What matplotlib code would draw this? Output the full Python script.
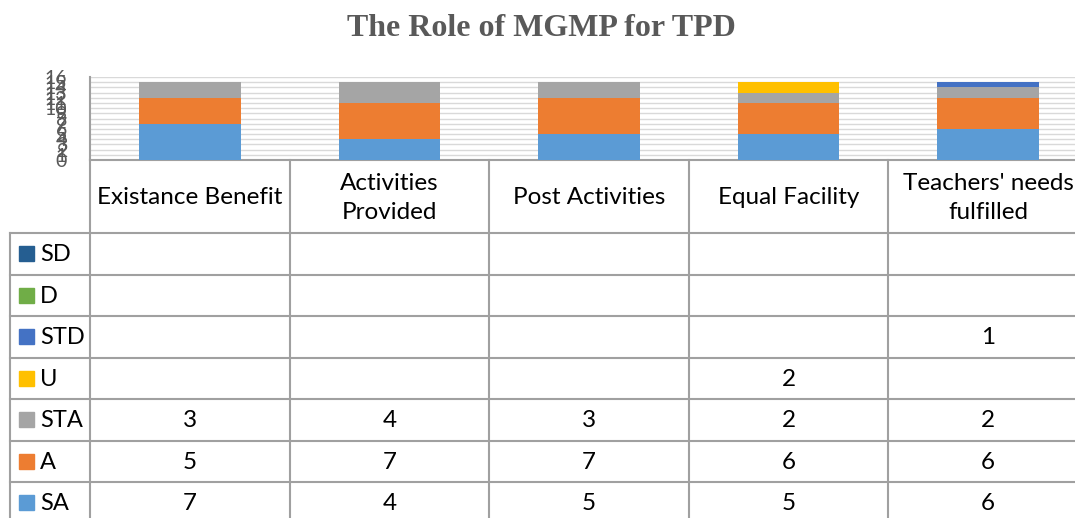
import numpy as np
import matplotlib
matplotlib.use("Agg")
import matplotlib.pyplot as plt
from matplotlib.patches import Rectangle

# ---- data ----
title = "The Role of MGMP for TPD"
categories = ["Existance Benefit", "Activities\nProvided", "Post Activities",
              "Equal Facility", "Teachers' needs\nfulfilled"]
series_names = ["SD", "D", "STD", "U", "STA", "A", "SA"]   # table order (top→bottom)
SD  = [np.nan, np.nan, np.nan, np.nan, np.nan]
D   = [np.nan, np.nan, np.nan, np.nan, np.nan]
STD = [np.nan, np.nan, np.nan, np.nan, 1]
U   = [np.nan, np.nan, np.nan, 2, np.nan]
STA = [3, 4, 3, 2, 2]
A   = [5, 7, 7, 6, 6]
SA  = [7, 4, 5, 5, 6]
y_ticks = list(range(0, 17))

series_values = {"SD": SD, "D": D, "STD": STD, "U": U, "STA": STA, "A": A, "SA": SA}
colors = {"SD": "#255E91", "D": "#70AD47", "STD": "#4472C4", "U": "#FFC000",
          "STA": "#A5A5A5", "A": "#ED7D31", "SA": "#5B9BD5"}

W, H = 1075, 518
fig = plt.figure(figsize=(W / 100, H / 100), dpi=100)
fig.patch.set_facecolor("white")

def fx(px):
    return px / W

def fy(py):
    return (H - py) / H

# layout in pixels
col_left, col_w = 90.0, 199.6
n = len(categories)
x_right = col_left + n * col_w
plot_top, plot_bot = 77.0, 160.0
leg_left = 10.0
header_bot = 233.0
row_h = 41.5
table_bot = header_bot + row_h * len(series_names)

TEXT = "#000000"
GRID = "#D9D9D9"
LINE = "#A0A0A0"
FONT = ["Lato", "DejaVu Sans"]
FS = 17.5

# ---- chart axes ----
ax = fig.add_axes([fx(col_left), fy(plot_bot), fx(x_right - col_left), (plot_bot - plot_top) / H])
x = np.arange(n)
bottom = np.zeros(n)
for name in ["SA", "A", "STA", "U", "STD", "D", "SD"]:
    vals = np.nan_to_num(np.array(series_values[name], dtype=float))
    ax.bar(x, vals, bottom=bottom, width=0.51, color=colors[name], zorder=3, linewidth=0)
    bottom += vals
ax.set_xlim(-0.5, n - 0.5)
ax.set_ylim(0, 16)
ax.set_yticks(y_ticks)
ax.set_yticklabels([str(t) for t in y_ticks], fontsize=14, color="#595959", family=FONT)
ax.tick_params(axis="y", length=0, pad=16.5)
ax.set_xticks([])
ax.yaxis.grid(True, color=GRID, linewidth=1.0, zorder=0)
for s in ["top", "right"]:
    ax.spines[s].set_visible(False)
ax.spines["left"].set_color(LINE)
ax.spines["left"].set_linewidth(1.5)
ax.spines["bottom"].set_color(LINE)
ax.spines["bottom"].set_linewidth(1.5)
ax.set_facecolor("none")

# ---- data table axes ----
tx0 = -0.5 - (col_left - leg_left) / col_w
tab = fig.add_axes([fx(leg_left), fy(table_bot), fx(x_right - leg_left), (table_bot - plot_bot) / H])
tab.set_xlim(tx0, n - 0.5)
tab.set_ylim(table_bot, plot_bot)
tab.axis("off")

lw = 1.5
for i in range(n + 1):
    xv = -0.5 + i
    tab.plot([xv, xv], [plot_bot, table_bot], color=LINE, lw=lw, clip_on=False)
tab.plot([tx0, tx0], [header_bot, table_bot], color=LINE, lw=lw, clip_on=False)
for r in range(len(series_names) + 1):
    yv = header_bot + r * row_h
    tab.plot([tx0, n - 0.5], [yv, yv], color=LINE, lw=lw, clip_on=False)

# header text
for i, c in enumerate(categories):
    tab.text(i, (plot_bot + header_bot) / 2 + 1.5, c, ha="center", va="center",
             fontsize=FS, color=TEXT, family=FONT, linespacing=1.45)

# rows
sq = 15.0 / col_w
for r, name in enumerate(series_names):
    yc = header_bot + (r + 0.5) * row_h
    tab.add_patch(Rectangle((tx0 + 9.0 / col_w, yc - 7.5), sq, 15.0,
                            color=colors[name], clip_on=False))
    tab.text(tx0 + 30.0 / col_w, yc + 1, name, ha="left", va="center",
             fontsize=FS - 0.5, color=TEXT, family=FONT)
    for i, v in enumerate(series_values[name]):
        if not np.isnan(v):
            tab.text(i, yc + 1, f"{v:g}", ha="center", va="center",
                     fontsize=FS, color=TEXT, family=FONT)

# title
fig.text(fx(541), fy(28), title, ha="center", va="center", fontsize=23,
         fontweight="bold", color="#595959", family=["Liberation Serif", "DejaVu Serif"])

fig.savefig("out.png", dpi=100)
